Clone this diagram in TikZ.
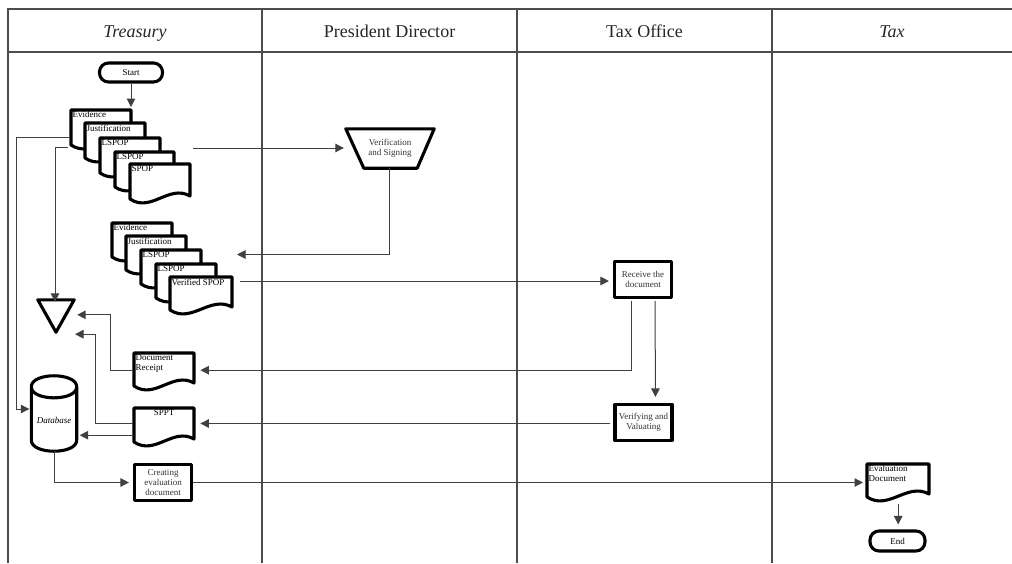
\documentclass[tikz,border=0pt]{standalone}
\usepackage{fontspec}
\setmainfont{Liberation Serif}
\usetikzlibrary{arrows.meta,calc}

\tikzset{
  frame/.style={line width=1.2pt, draw=black!70},
  shp/.style={line width=3.1pt, draw=black, fill=white, line join=round},
  conn/.style={line width=1pt, draw=black!75},
  arr/.style={conn, -{Triangle[length=8.5pt,width=8.5pt]}},
  lbl/.style={font=\fontsize{9}{10}\selectfont, text=black},
  hdr/.style={font=\fontsize{18}{20}\selectfont, anchor=base, text=black!85},
  area/.style={draw=none, inner sep=0pt},
  box/.style={shp, lbl, align=center, minimum width=57pt, minimum height=36pt, inner sep=1pt},
  term/.style={shp, lbl, rounded corners=9pt, inner sep=1pt},
}

% #1 name, #2 x, #3 y (top left), #4 width, #5 height, #6 text, #7 text anchor
\newcommand\docshape[7]{%
  \pgfmathsetmacro\dxr{#2+#4}%
  \pgfmathsetmacro\dyr{#3+#5-8}%
  \pgfmathsetmacro\dyl{#3+#5-5}%
  \pgfmathsetmacro\cxa{#2+0.65*#4}%
  \pgfmathsetmacro\cya{#3+#5-20}%
  \pgfmathsetmacro\cxb{#2+0.35*#4}%
  \pgfmathsetmacro\cyb{#3+#5+9}%
  \draw[shp] (#2,#3) -- (\dxr,#3) -- (\dxr,\dyr) .. controls (\cxa,\cya) and (\cxb,\cyb) .. (#2,\dyl) -- cycle;
  \node[area, minimum width=#4pt, minimum height=#5pt, anchor=north west,
        label={[lbl, align=left, inner sep=1.5pt, anchor=#7]#7:#6}] (#1) at (#2,#3) {};
}

\begin{document}
\begin{tikzpicture}[x=1pt,y=-1pt]
\useasboundingbox (0,0) rectangle (1012,563);

% swimlane frame
\draw[frame] (1012,9) -- (8,9) -- (8,563);
\draw[frame] (8,52) -- (1012,52);
\draw[frame] (262,9) -- (262,563);
\draw[frame] (517,9) -- (517,563);
\draw[frame] (772,9) -- (772,563);

\node[hdr] (h1) at (135,37) {\textit{Treasury}};
\node[hdr] (h2) at (389.5,37) {President Director};
\node[hdr] (h3) at (644.5,37) {Tax Office};
\node[hdr] (h4) at (892,37) {\textit{Tax}};

% start
\node[term, minimum width=63pt, minimum height=19pt] (start) at (131,72.5) {Start};

% first document stack
\docshape{ev1}{71}{110}{60}{40}{Evidence}{north west}
\docshape{ju1}{85}{123}{60}{40}{Justification}{north west}
\docshape{lsa1}{100}{138}{60}{40}{LSPOP}{north west}
\docshape{lsb1}{115}{152}{59}{40}{LSPOP}{north west}
\docshape{sp1}{130}{164}{60}{40}{SPOP}{north west}

% verification
\node[area, minimum width=88pt, minimum height=39pt, lbl, align=center, text=black!80] (ver) at (390,148.5) {Verification\\and Signing};
\draw[shp, fill=none] (ver.north west) -- (ver.north east) -- ($(ver.south east)+(-17,0)$) -- ($(ver.south west)+(18,0)$) -- cycle;

% second document stack
\docshape{ev2}{112}{223}{60}{39}{Evidence}{north west}
\docshape{ju2}{126}{236}{60}{39}{Justification}{north west}
\docshape{lsa2}{141}{250}{60}{39}{LSPOP}{north west}
\docshape{lsb2}{156}{264}{60}{39}{LSPOP}{north west}
\docshape{vsp}{170}{277}{62}{38}{Verified SPOP}{north west}

% tax office boxes
\node[box, text=black!80] (recv) at (643,279.5) {Receive the\\document};
\node[box, text=black!80] (verif) at (643.5,422.5) {Verifying and\\Valuating};

% triangle
\node[area, minimum width=36pt, minimum height=32pt] (tri) at (56,316) {};
\draw[shp, fill=none] (tri.north west) -- (tri.north east) -- (tri.south) -- cycle;

% documents in treasury lane
\docshape{docrec}{134}{353}{60}{38}{Document\\Receipt}{north west}
\docshape{sppt}{134}{408}{60}{39}{SPPT}{north}

% database
\node[area, minimum width=45pt, minimum height=75pt] (db) at (54,413.5) {};
\draw[shp, fill=none] ($(db.north west)+(0,11)$) .. controls ($(db.north west)+(0,-3.7)$) and ($(db.north east)+(0,-3.7)$) .. ($(db.north east)+(0,11)$) .. controls ($(db.north east)+(0,25.7)$) and ($(db.north west)+(0,25.7)$) .. ($(db.north west)+(0,11)$) -- ($(db.south west)+(0,-11)$) .. controls ($(db.south west)+(0,3.7)$) and ($(db.south east)+(0,3.7)$) .. ($(db.south east)+(0,-11)$) -- ($(db.north east)+(0,11)$);
\node[lbl, font={\fontsize{9}{10}\selectfont\itshape}] (dbt) at ($(db)+(0,7)$) {Database};

% creating evaluation document
\node[box, text=black!80] (creating) at (163,482.5) {Creating\\evaluation\\document};

% tax lane
\docshape{evald}{867}{464}{62}{38}{Evaluation\\Document}{north west}
\node[term, minimum width=55pt, minimum height=20pt] (end) at (897.5,541) {End};

% connectors
\draw[arr, shorten >=3pt] (start.south) -- (start.south |- ev1.north);

\coordinate (e1a) at ($(ev1.north west)+(-2,27)$);
\draw[arr, shorten >=1pt] (e1a) -- ++(-53,0) |- ($(db.west)+(-1,-4.5)$);

\coordinate (e1b) at ($(ev1.north west)+(-3,37.5)$);
\draw[arr] (e1b) -| ($(tri.north)+(-1,2)$);

\coordinate (s1) at ($(sp1.north east)+(3,-16)$);
\draw[arr] (s1) -- ($(s1 -| ver.west)+(-2,0)$);

\coordinate (v5) at (237,254.5);
\draw[arr] ($(ver.south)+(-1,0)$) |- (v5);

\coordinate (v6) at ($(vsp.north east)+(8,4)$);
\draw[arr] (v6) -- ($(v6 -| recv.west)+(-4,0)$);

\coordinate (r7) at ($(recv.south)+(-12,2)$);
\draw[arr, shorten >=6pt] (r7) |- ($(docrec.east)+(0,-2)$);

\draw[arr, shorten >=4pt] ($(recv.south)+(12,2)$) -- ($(verif.north)+(12,-2)$);

\coordinate (v9) at ($(verif.west)+(-3,1)$);
\draw[arr, shorten >=6pt] (v9) -- (v9 -| sppt.east);

\coordinate (d10) at ($(docrec.west)+(-1,-2)$);
\draw[arr] (d10) -- ++(-23,0) |- ($(tri.north east)+(3,15)$);

\coordinate (s11) at ($(sppt.west)+(-1,-4.5)$);
\draw[arr] (s11) -- ++(-38,0) |- ($(tri.south)+(19,2)$);

\coordinate (s12) at ($(sppt.west)+(-1,7.5)$);
\draw[arr, shorten >=3pt] (s12) -- (s12 -| db.east);

\draw[arr, shorten >=4pt] (db.south) |- (creating.west);

\draw[arr, shorten >=4pt] (creating.east) -- (creating.east -| evald.west);

\draw[arr, shorten >=5pt, shorten <=2pt] (evald.south) -- (evald.south |- end.north);
\end{tikzpicture}
\end{document}
